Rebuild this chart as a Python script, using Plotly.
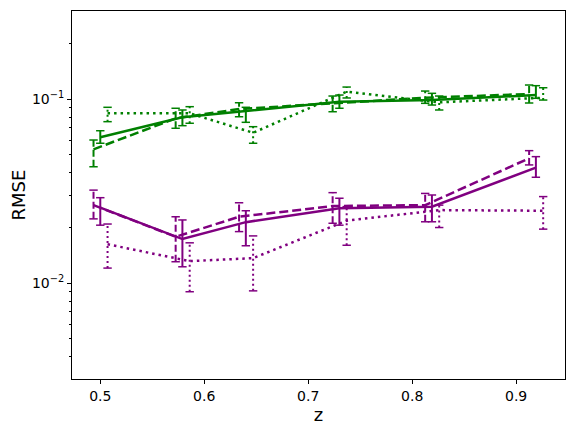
import plotly.graph_objects as go

# redshift bins and small offsets per style
z = [0.5, 0.579, 0.64, 0.73, 0.819, 0.919]
offsets = {"dash": -0.0065, "solid": 0.0, "dot": 0.007}

# green series: values, lower and upper error bar ends
green_solid = [0.0622, 0.0798, 0.0864, 0.0970, 0.0991, 0.1055]
green_solid_lo = [0.0577, 0.0719, 0.0750, 0.0894, 0.0931, 0.1013]
green_solid_hi = [0.0675, 0.0875, 0.0905, 0.1055, 0.1078, 0.1186]

green_dash = [0.0535, 0.0788, 0.0886, 0.0951, 0.1020, 0.1069]
green_dash_lo = [0.0430, 0.0696, 0.0804, 0.0856, 0.0951, 0.0955]
green_dash_hi = [0.0601, 0.0894, 0.0958, 0.1042, 0.1109, 0.1196]

green_dot = [0.0839, 0.0839, 0.0658, 0.1100, 0.0963, 0.1020]
green_dot_lo = [0.0756, 0.0741, 0.0577, 0.1017, 0.0875, 0.0991]
green_dot_hi = [0.0905, 0.0912, 0.0710, 0.1166, 0.1042, 0.1156]

# purple series
purple_solid = [0.0258, 0.0174, 0.0215, 0.0256, 0.0261, 0.0425]
purple_solid_lo = [0.0207, 0.0123, 0.0160, 0.0207, 0.0216, 0.0377]
purple_solid_hi = [0.0292, 0.0221, 0.0248, 0.0290, 0.0302, 0.0488]

purple_dash = [0.0266, 0.0179, 0.0230, 0.0263, 0.0266, 0.0478]
purple_dash_lo = [0.0224, 0.0131, 0.0191, 0.0212, 0.0216, 0.0440]
purple_dash_hi = [0.0321, 0.0230, 0.0274, 0.0311, 0.0308, 0.0526]

purple_dot = [0.0163, 0.0132, 0.0137, 0.0219, 0.0250, 0.0248]
purple_dot_lo = [0.0121, 0.0090, 0.0091, 0.0161, 0.0201, 0.0197]
purple_dot_hi = [0.0210, 0.0166, 0.0181, 0.0261, 0.0266, 0.0296]

GREEN = "#008000"
PURPLE = "#800080"
dash_px = {"solid": "solid", "dash": "9px,4px", "dot": "2.5px,4px"}
bar_dash = {"solid": "solid", "dash": "7px,3px", "dot": "2px,3px"}

series = [
    (GREEN, "solid", green_solid, green_solid_lo, green_solid_hi),
    (GREEN, "dash", green_dash, green_dash_lo, green_dash_hi),
    (GREEN, "dot", green_dot, green_dot_lo, green_dot_hi),
    (PURPLE, "solid", purple_solid, purple_solid_lo, purple_solid_hi),
    (PURPLE, "dash", purple_dash, purple_dash_lo, purple_dash_hi),
    (PURPLE, "dot", purple_dot, purple_dot_lo, purple_dot_hi),
]

fig = go.Figure()

for color, style, vals, lo, hi in series:
    xs = [v + offsets[style] for v in z]
    # the line itself
    fig.add_trace(go.Scatter(x=xs, y=vals, mode="lines",
                             line=dict(color=color, width=2.5, dash=dash_px[style]),
                             showlegend=False, hoverinfo="skip"))
    # vertical error segments, drawn with the same line style
    ex, ey = [], []
    for x, a, b in zip(xs, lo, hi):
        ex += [x, x, None]
        ey += [a, b, None]
    fig.add_trace(go.Scatter(x=ex, y=ey, mode="lines",
                             line=dict(color=color, width=2, dash=bar_dash[style]),
                             showlegend=False, hoverinfo="skip"))
    # caps
    fig.add_trace(go.Scatter(x=xs + xs, y=lo + hi, mode="markers",
                             marker=dict(symbol="line-ew", size=6,
                                         line=dict(color=color, width=1.5)),
                             showlegend=False, hoverinfo="skip"))

minor_y = [m * 10.0 ** e for e in (-3, -2, -1) for m in range(2, 10)]
minor_y = [v for v in minor_y if 0.003 <= v <= 0.3]

# page body has an 8px margin, so the margins below are shifted to compensate
fig.update_layout(
    width=576, height=432,
    margin=dict(l=64, r=19, t=3, b=61),
    paper_bgcolor="white", plot_bgcolor="white",
    font=dict(family="DejaVu Sans", color="black", size=14),
    xaxis=dict(
        range=[0.4728, 0.947],
        tickvals=[0.5, 0.6, 0.7, 0.8, 0.9], ticktext=["0.5", "0.6", "0.7", "0.8", "0.9"],
        ticks="outside", ticklen=4, tickwidth=1, tickcolor="black",
        showline=True, linecolor="black", linewidth=1, mirror=True,
        showgrid=False, zeroline=False,
        title=dict(text="z", font=dict(size=18), standoff=3),
    ),
    yaxis=dict(
        type="log", range=[-2.52, -0.52],
        tickvals=[0.01, 0.1], ticktext=["10<sup>\u22122</sup>", "10<sup>\u22121</sup>"],
        ticks="outside", ticklen=4, tickwidth=1, tickcolor="black",
        minor=dict(tickvals=minor_y, ticks="outside", ticklen=2, tickwidth=0.8,
                   tickcolor="black", showgrid=False),
        showline=True, linecolor="black", linewidth=1, mirror=True,
        showgrid=False, zeroline=False,
        title=dict(text="RMSE", font=dict(size=18), standoff=8),
    ),
)

fig.write_html("out.html")
